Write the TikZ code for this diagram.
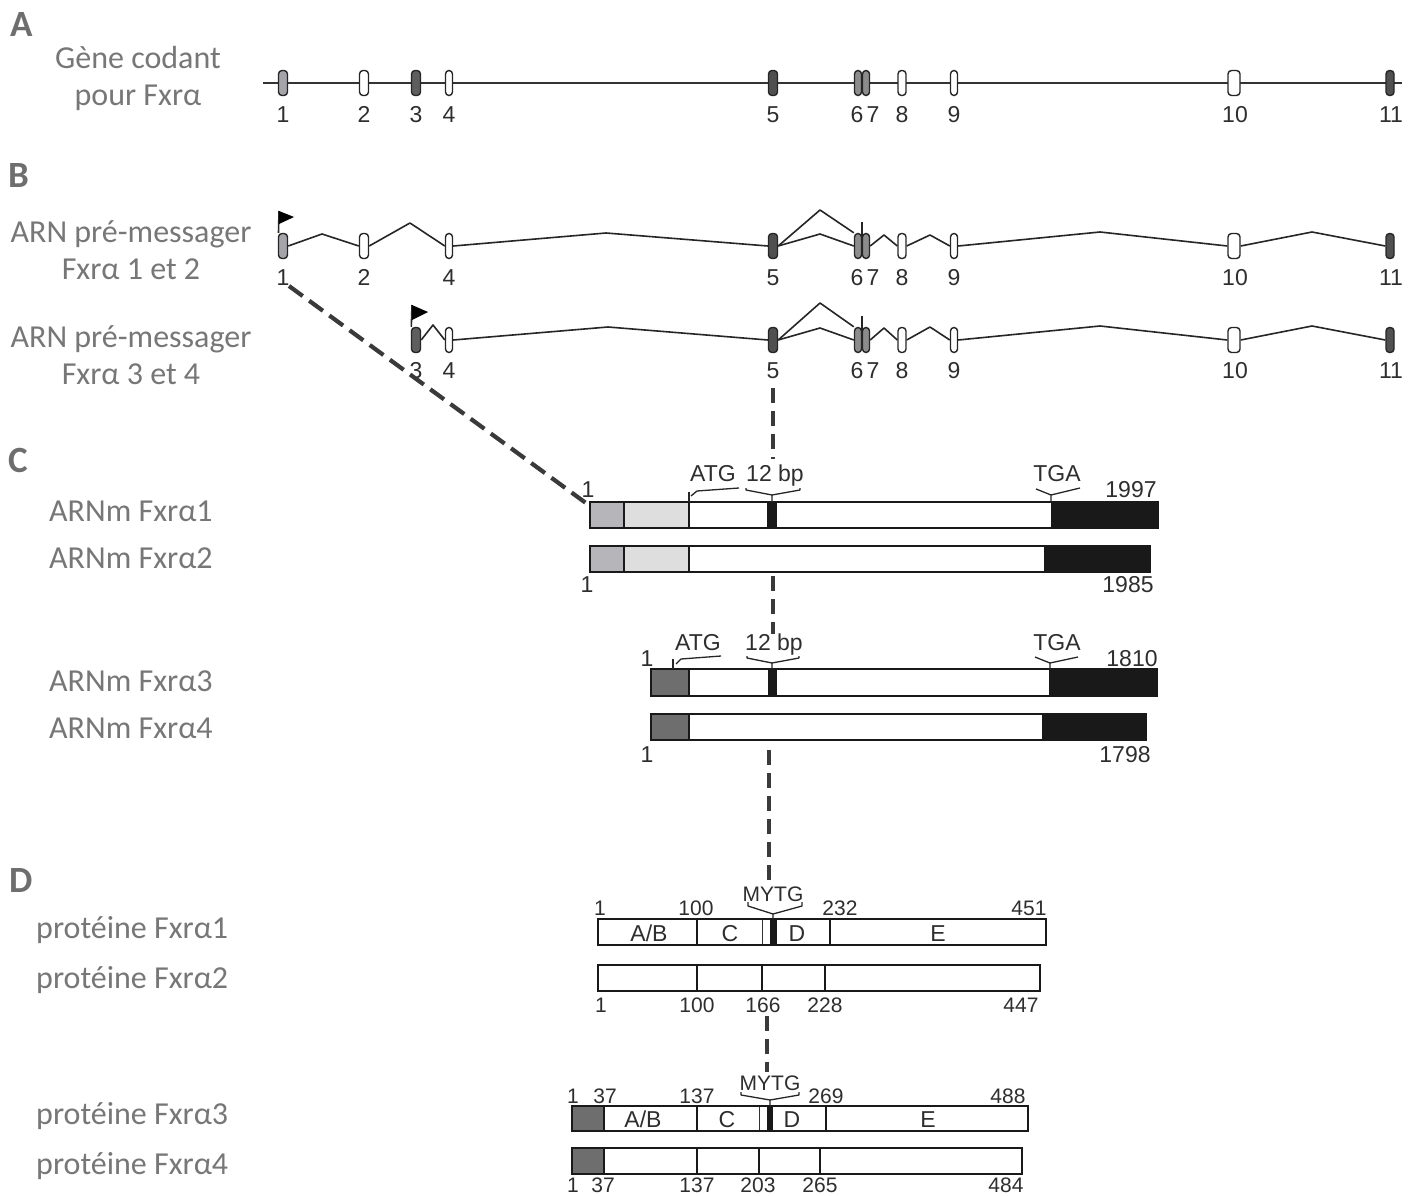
\documentclass[tikz,border=0pt]{standalone}
\usepackage{fontspec}
\setmainfont{Carlito}
\newfontfamily\hv{Liberation Sans}
\usetikzlibrary{calc}
\definecolor{lbl}{HTML}{777777}
\definecolor{seclbl}{HTML}{6E6E6E}
\definecolor{numc}{HTML}{2E2E2E}
\definecolor{exA}{HTML}{A4A4AA}
\definecolor{exB}{HTML}{8C8C8C}
\definecolor{exC}{HTML}{5E5E5E}
\definecolor{exD}{HTML}{505050}
\definecolor{cmid}{HTML}{B6B6BA}
\definecolor{clight}{HTML}{DEDEDE}
\definecolor{cdark}{HTML}{6E6E6E}
\definecolor{dashc}{HTML}{3A3A3A}
\begin{document}
\begin{tikzpicture}[x=1pt,y=-1pt,
  lab/.style={font=\fontsize{32}{34}\selectfont, text=lbl, inner sep=0, anchor=base},
  labw/.style={lab, anchor=base west},
  sec/.style={font=\fontsize{37}{37}\selectfont\bfseries, text=seclbl, inner sep=0, anchor=base west},
  gnum/.style={font=\hv\fontsize{23}{23}\selectfont, text=numc, inner sep=0, anchor=base},
  cnum/.style={font=\hv\fontsize{23}{23}\selectfont, text=numc, inner sep=0, anchor=base},
  dnum/.style={font=\hv\fontsize{21}{21}\selectfont, text=numc, inner sep=0, anchor=base},
  dlet/.style={font=\hv\fontsize{23}{23}\selectfont, text=numc, inner sep=0, anchor=base},
  exon/.style={draw=black!85, line width=1.4pt, rounded corners=3.5pt, minimum height=25pt, inner sep=0},
  intron/.style={draw=black!85, line width=1.6pt, line join=round},
  gline/.style={draw=black!80, line width=2.2pt},
  dashc/.style={draw=dashc, line width=4.2pt, dash pattern=on 15pt off 8pt},
  barout/.style={draw=black!90, line width=1.8pt},
  seg/.style={draw=black!90, line width=1.5pt},
  thinseg/.style={draw=black!80, line width=1pt},
  brk/.style={draw=black!85, line width=1.3pt, line join=round},
]
\useasboundingbox (0,0) rectangle (1424,1196);
\fill[white] (0,0) rectangle (1424,1196);

% ---------------- left labels ----------------
\node[sec] (secA) at (10,37) {A};
\node[lab] (la1) at (138,69) {Gène codant};
\node[lab] (la2) at (138,106) {pour Fxrα};
\node[sec] (secB) at (8,187) {B};
\node[lab] (lb1) at (131,242) {ARN pré-messager};
\node[lab] (lb2) at (131,279) {Fxrα 1 et 2};
\node[lab] (lb3) at (131,347) {ARN pré-messager};
\node[lab] (lb4) at (131,384) {Fxrα 3 et 4};
\node[sec] (secC) at (8,472) {C};
\node[labw] (lc1) at (49,521) {ARNm Fxrα1};
\node[labw] (lc2) at (49,568) {ARNm Fxrα2};
\node[labw] (lc3) at (49,691) {ARNm Fxrα3};
\node[labw] (lc4) at (49,738) {ARNm Fxrα4};
\node[sec] (secD) at (9,892) {D};
\node[labw] (ld1) at (36,938) {protéine Fxrα1};
\node[labw] (ld2) at (36,988) {protéine Fxrα2};
\node[labw] (ld3) at (36,1124) {protéine Fxrα3};
\node[labw] (ld4) at (36,1174) {protéine Fxrα4};

% ---------------- A : gene ----------------
\coordinate (gs) at (263,83);
\coordinate (ge) at (1402,83);
\draw[gline] (gs) -- (ge);
\foreach \n/\x/\f/\w in {1/283/exA/9, 2/364/white/9, 3/416/exC/9, 4/449/white/7, 5/773/exD/9, 6/858/exB/7, 7/866/exB/7, 8/902/white/8, 9/954/white/7, 10/1234/white/12, 11/1390/exD/8}
  \node[exon, fill=\f, minimum width=\w pt] (a\n) at (\x,83) {};
\foreach \n/\x in {1/283, 2/364, 3/416, 4/449, 5/773, 6/857, 7/873, 8/902, 9/954, 10/1235, 11/1391}
  \node[gnum] (an\n) at (\x,123) {\n};

% ---------------- B : row 1 ----------------
\foreach \n/\x/\f/\w in {1/283/exA/9, 2/364/white/9, 4/449/white/7, 5/773/exD/9, 6/858/exB/7, 7/866/exB/7, 8/902/white/8, 9/954/white/7, 10/1234/white/12, 11/1390/exD/8}
  \node[exon, fill=\f, minimum width=\w pt] (p\n) at (\x,246) {};
\foreach \n/\x in {1/283, 2/364, 4/449, 5/773, 6/857, 7/873, 8/902, 9/954, 10/1235, 11/1391}
  \node[gnum] (pn\n) at (\x,285) {\n};
\draw[intron] (p1.east) -- (322,234) -- (p2.west);
\draw[intron] (p2.east) -- (410,223) -- (p4.west);
\draw[intron] (p4.east) -- (606,233) -- (p5.west);
\draw[intron] (p5.east) -- (820,210) -- (p6.north west);
\draw[intron] (p5.east) -- (820,234) -- (p6.west);
\draw[intron] (p7.east) -- (884,235) -- (p8.west);
\draw[intron] (p8.east) -- (930,235) -- (p9.west);
\draw[intron] (p9.east) -- (1100,232) -- (p10.west);
\draw[intron] (p10.east) -- (1312,232) -- (p11.west);
\draw[brk] (862,222) -- (862,240);
\coordinate (fp1) at (279,211);
\draw[intron] (p1.north west) ++(0.7,0) -- (fp1);
\fill[black] (fp1) -- (294,217) -- (279,224) -- cycle;

% ---------------- B : row 2 ----------------
\foreach \n/\x/\f/\w in {3/416/exC/9, 4/449/white/7, 5/773/exD/9, 6/858/exB/7, 7/866/exB/7, 8/902/white/8, 9/954/white/7, 10/1234/white/12, 11/1390/exD/8}
  \node[exon, fill=\f, minimum width=\w pt] (q\n) at (\x,340) {};
\foreach \n/\x in {3/416, 4/449, 5/773, 6/857, 7/873, 8/902, 9/954, 10/1235, 11/1391}
  \node[gnum] (qn\n) at (\x,378) {\n};
\draw[intron] (q3.east) -- (433,325) -- (q4.west);
\draw[intron] (q4.east) -- (608,327) -- (q5.west);
\draw[intron] (q5.east) -- (820,303) -- (q6.north west);
\draw[intron] (q5.east) -- (820,328) -- (q6.west);
\draw[intron] (q7.east) -- (884,328) -- (q8.west);
\draw[intron] (q8.east) -- (930,327) -- (q9.west);
\draw[intron] (q9.east) -- (1100,326) -- (q10.west);
\draw[intron] (q10.east) -- (1312,326) -- (q11.west);
\draw[brk] (862,316) -- (862,334);
\coordinate (fq1) at (412,305);
\draw[intron] (q3.north west) ++(0.5,0) -- (fq1);
\fill[black] (fq1) -- (428,312) -- (412,320) -- cycle;

% ---------------- C : mRNAs ----------------
% C1
\fill[cmid] (590,502) rectangle (624,528);
\fill[clight] (624,502) rectangle (689,528);
\fill[black!90] (767,502) rectangle (777,528);
\fill[black!90] (1051,502) rectangle (1158,528);
\draw[seg] (624,502) -- (624,528);
\draw[seg] (689,502) -- (689,528);
\draw[barout] (590,502) rectangle (1158,528);
\coordinate (C1nw) at (590,506);
\node[cnum] (c1a) at (588,497) {1};
\node[cnum] (c1b) at (713,481) {ATG};
\node[cnum] (c1c) at (775,481) {12 bp};
\node[cnum] (c1d) at (1057,481) {TGA};
\node[cnum] (c1e) at (1131,497) {1997};
\draw[brk] (689,502) -- (689,492);
\draw[brk] (691,496) -- (697,491) -- (739,488);
\draw[brk] (746,488) -- (746,490) -- (772,495) -- (772,502);
\draw[brk] (772,495) -- (800,490) -- (800,488);
\draw[brk] (1036,489) -- (1051,495) -- (1051,502);
\draw[brk] (1051,495) -- (1080,488);
% C2
\fill[cmid] (590,546) rectangle (624,572);
\fill[clight] (624,546) rectangle (689,572);
\fill[black!90] (1044,546) rectangle (1150,572);
\draw[seg] (624,546) -- (624,572);
\draw[seg] (689,546) -- (689,572);
\draw[barout] (590,546) rectangle (1150,572);
\node[cnum] (c2a) at (587,592) {1};
\node[cnum] (c2b) at (1128,592) {1985};
% C3
\fill[cdark] (651,669) rectangle (689,696);
\fill[black!90] (768,669) rectangle (777,696);
\fill[black!90] (1049,669) rectangle (1157,696);
\draw[seg] (689,669) -- (689,696);
\draw[barout] (651,669) rectangle (1157,696);
\node[cnum] (c3a) at (647,666) {1};
\node[cnum] (c3b) at (698,650) {ATG};
\node[cnum] (c3c) at (774,650) {12 bp};
\node[cnum] (c3d) at (1057,650) {TGA};
\node[cnum] (c3e) at (1132,666) {1810};
\draw[brk] (673,669) -- (673,659);
\draw[brk] (676,664) -- (681,659) -- (721,656);
\draw[brk] (747,656) -- (747,658) -- (772,663) -- (772,669);
\draw[brk] (772,663) -- (799,658) -- (799,656);
\draw[brk] (1035,657) -- (1050,663) -- (1050,669);
\draw[brk] (1050,663) -- (1078,657);
% C4
\fill[cdark] (651,714) rectangle (689,740);
\fill[black!90] (1042,714) rectangle (1146,740);
\draw[seg] (689,714) -- (689,740);
\draw[barout] (651,714) rectangle (1146,740);
\node[cnum] (c4a) at (647,762) {1};
\node[cnum] (c4b) at (1125,762) {1798};

% ---------------- D : proteins ----------------
% D1
\fill[black!90] (770,919) rectangle (777,945);
\draw[seg] (697,919) -- (697,945);
\draw[thinseg] (762,919) -- (762,945);
\draw[seg] (830,919) -- (830,945);
\draw[barout] (598,919) rectangle (1046,945);
\node[dlet] (d1l1) at (649,941) {A/B};
\node[dlet] (d1l2) at (730,941) {C};
\node[dlet] (d1l3) at (797,941) {D};
\node[dlet] (d1l4) at (938,941) {E};
\node[dnum] (d1a) at (600,915) {1};
\node[dnum] (d1b) at (696,915) {100};
\node[dnum] (d1c) at (773,901) {MYTG};
\node[dnum] (d1d) at (840,915) {232};
\node[dnum] (d1e) at (1029,915) {451};
\draw[brk] (748,902) -- (748,906) -- (773,914) -- (773,919);
\draw[brk] (773,914) -- (802,906) -- (802,902);
% D2
\draw[seg] (697,965) -- (697,991);
\draw[seg] (762,965) -- (762,991);
\draw[seg] (825,965) -- (825,991);
\draw[barout] (598,965) rectangle (1040,991);
\node[dnum] (d2a) at (601,1012) {1};
\node[dnum] (d2b) at (697,1012) {100};
\node[dnum] (d2c) at (763,1012) {166};
\node[dnum] (d2d) at (825,1012) {228};
\node[dnum] (d2e) at (1021,1012) {447};
% D3
\fill[cdark] (572,1106) rectangle (604,1131);
\fill[black!90] (767,1106) rectangle (773,1131);
\draw[seg] (604,1106) -- (604,1131);
\draw[seg] (697,1106) -- (697,1131);
\draw[thinseg] (759,1106) -- (759,1131);
\draw[seg] (826,1106) -- (826,1131);
\draw[barout] (572,1106) rectangle (1028,1131);
\node[dlet] (d3l1) at (643,1127) {A/B};
\node[dlet] (d3l2) at (727,1127) {C};
\node[dlet] (d3l3) at (792,1127) {D};
\node[dlet] (d3l4) at (928,1127) {E};
\node[dnum] (d3a) at (573,1103) {1};
\node[dnum] (d3b) at (605,1103) {37};
\node[dnum] (d3c) at (697,1103) {137};
\node[dnum] (d3d) at (770,1090) {MYTG};
\node[dnum] (d3e) at (826,1103) {269};
\node[dnum] (d3f) at (1008,1103) {488};
\draw[brk] (741,1092) -- (741,1095) -- (770,1100) -- (770,1106);
\draw[brk] (770,1100) -- (799,1095) -- (799,1092);
% D4
\fill[cdark] (572,1148) rectangle (604,1174);
\draw[seg] (604,1148) -- (604,1174);
\draw[seg] (697,1148) -- (697,1174);
\draw[seg] (759,1148) -- (759,1174);
\draw[seg] (820,1148) -- (820,1174);
\draw[barout] (572,1148) rectangle (1022,1174);
\node[dnum] (d4a) at (573,1192) {1};
\node[dnum] (d4b) at (603,1192) {37};
\node[dnum] (d4c) at (697,1192) {137};
\node[dnum] (d4d) at (758,1192) {203};
\node[dnum] (d4e) at (820,1192) {265};
\node[dnum] (d4f) at (1006,1192) {484};

% ---------------- dashed connectors ----------------
\coordinate (k1) at (773,388);
\coordinate (k2) at (773,459);
\coordinate (k3) at (773,576);
\coordinate (k4) at (773,634);
\coordinate (k5) at (769,750);
\coordinate (k6) at (769,882);
\coordinate (k7) at (767,1016);
\coordinate (k8) at (767,1072);
\coordinate (k0) at (289,286);
\draw[dashc, dash pattern=on 17pt off 8pt] (k0) -- (C1nw);
\draw[dashc] (k1) -- (k2);
\draw[dashc] (k3) -- (k4);
\draw[dashc] (k5) -- (k6);
\draw[dashc] (k7) -- (k8);
\end{tikzpicture}
\end{document}
